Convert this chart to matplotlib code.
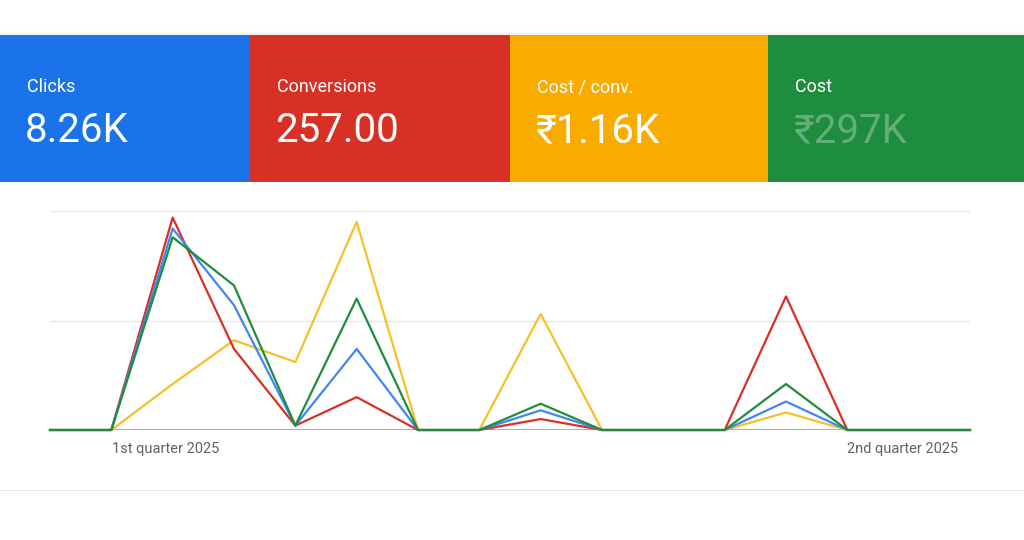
import matplotlib
matplotlib.use("Agg")
import matplotlib.pyplot as plt
from matplotlib.patches import Rectangle

tiles = ["Clicks", "Conversions", "Cost / conv.", "Cost"]
tile_values = ["8.26K", "257.00", "₹1.16K", "₹297K"]
tile_colors = ["#1a73e8", "#d93025", "#f9ab00", "#1e8e3e"]
x_labels = ["1st quarter 2025", "2nd quarter 2025"]

red = [0, 0, 97, 37, 2, 15, 0, 0, 5, 0, 0, 0, 61, 0, 0, 0]
blue = [0, 0, 92, 57, 2, 37, 0, 0, 9, 0, 0, 0, 13, 0, 0, 0]
green = [0, 0, 88, 66, 2, 60, 0, 0, 12, 0, 0, 0, 21, 0, 0, 0]
yellow = [0, 0, 21, 41, 31, 95, 0, 0, 53, 0, 0, 0, 8, 0, 0, 0]

W, H = 1024, 540
fig = plt.figure(figsize=(W/100, H/100), dpi=100)
fig.patch.set_facecolor("white")
fam = ["Roboto", "DejaVu Sans"]

# card shadow
bg = fig.add_axes([0, 0, 1, 1]); bg.set_xlim(0, W); bg.set_ylim(H, 0); bg.axis("off")
for i, a in enumerate([0.02, 0.03, 0.04]):
    bg.add_patch(Rectangle((0, 35 - 4 + i*2), W, 460 - i*2, color="black", alpha=a, lw=0))
bg.add_patch(Rectangle((0, 35), W, 455, color="white", lw=0))
edges = [0, 250, 510, 768, 1024]
for i in range(4):
    bg.add_patch(Rectangle((edges[i], 35), edges[i+1]-edges[i], 147, color=tile_colors[i], lw=0))
    bg.text(edges[i] + 27, 87, tiles[i], color="white", fontsize=13, va="center", family=fam)
    bg.text(edges[i] + 25, 131, tile_values[i], color="white", fontsize=29, va="center",
            family=fam, alpha=0.3 if i == 3 else 1)
bg.text(112, 449, x_labels[0], color="#5f6368", fontsize=10.5, va="center", ha="left", family=fam)
bg.text(958, 449, x_labels[1], color="#5f6368", fontsize=10.5, va="center", ha="right", family=fam)

ax = fig.add_axes([50/W, 1 - 430/H, 920/W, (430-211)/H])
x = list(range(len(red)))
ax.set_xlim(0, len(red)-1); ax.set_ylim(0, 100)
for y in (50, 100):
    ax.axhline(y, color="#e8eaed", lw=1, zorder=0)
ax.axhline(0, color="#9aa0a6", lw=1.2, zorder=0)
ax.plot(x, yellow, color="#f6c026", lw=1.6, clip_on=False)
ax.plot(x, red, color="#d93025", lw=1.6, clip_on=False)
ax.plot(x, blue, color="#4285f4", lw=1.6, clip_on=False)
ax.plot(x, green, color="#1e8e3e", lw=1.6, clip_on=False)
ax.axis("off")

fig.savefig("out.png", dpi=100)
